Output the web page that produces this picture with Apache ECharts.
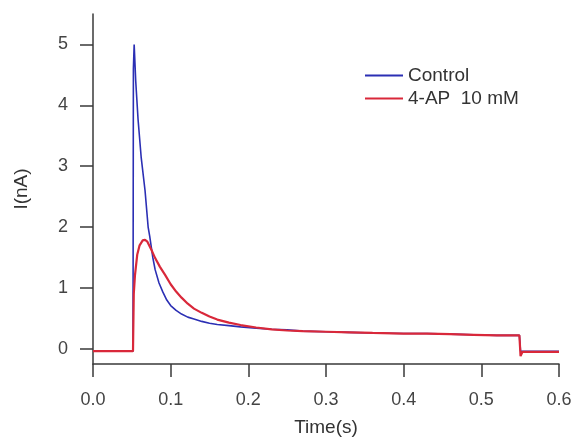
<!DOCTYPE html>
<html>
<head>
<meta charset="utf-8">
<script src="https://cdn.jsdelivr.net/npm/echarts@6/dist/echarts.min.js"></script>
<style>
html,body{margin:0;padding:0;background:#fff;}
#chart{width:577px;height:437px;}
</style>
</head>
<body>
<div id="chart"></div>
<script>
// Control trace: time (s)
var controlTime = [0, 0.0515, 0.0520, 0.0530, 0.0550, 0.0580, 0.0620, 0.0670, 0.0710, 0.0730, 0.0770, 0.0800, 0.0850, 0.0900, 0.0950, 0.1000, 0.1070, 0.1140, 0.1220, 0.1300, 0.1400, 0.1500, 0.1600, 0.1750, 0.1900, 0.2100, 0.2300, 0.2500, 0.2700, 0.3000, 0.3300, 0.3600, 0.4000, 0.4300, 0.4600, 0.4900, 0.5200, 0.5490, 0.5505, 0.6000];
// Control trace: current (nA)
var controlCurrent = [-0.04, -0.04, 4.6, 5.0, 4.4, 3.77, 3.15, 2.6, 2.0, 1.85, 1.5, 1.3, 1.08, 0.93, 0.8, 0.71, 0.63, 0.57, 0.52, 0.49, 0.45, 0.42, 0.4, 0.38, 0.36, 0.34, 0.32, 0.31, 0.29, 0.28, 0.27, 0.26, 0.25, 0.25, 0.24, 0.23, 0.22, 0.22, -0.04, -0.04];
// 4-AP trace: time (s)
var apTime = [0, 0.0515, 0.0525, 0.0540, 0.0570, 0.0600, 0.0640, 0.0670, 0.0700, 0.0750, 0.0800, 0.0860, 0.0930, 0.1000, 0.1070, 0.1140, 0.1220, 0.1300, 0.1400, 0.1500, 0.1600, 0.1750, 0.1900, 0.2100, 0.2300, 0.2500, 0.2700, 0.3000, 0.3300, 0.3600, 0.4000, 0.4300, 0.4600, 0.4900, 0.5200, 0.5490, 0.5505, 0.5530, 0.6000];
// 4-AP trace: current (nA)
var apCurrent = [-0.04, -0.04, 0.9, 1.2, 1.55, 1.7, 1.78, 1.79, 1.76, 1.63, 1.49, 1.35, 1.21, 1.06, 0.94, 0.84, 0.74, 0.66, 0.59, 0.53, 0.48, 0.43, 0.39, 0.35, 0.32, 0.3, 0.29, 0.28, 0.27, 0.26, 0.25, 0.25, 0.24, 0.23, 0.22, 0.22, -0.12, -0.05, -0.05];

var xTicks = [0, 0.1, 0.2, 0.3, 0.4, 0.5, 0.6];
var yTicks = [0, 1, 2, 3, 4, 5];
var seriesNames = ['Control', '4-AP  10 mM'];

function pairs(t, v) { return t.map(function (x, i) { return [x, v[i]]; }); }

var font = 'Liberation Sans, Arial, sans-serif';
var axisColor = '#3a3a3a';
var chart = echarts.init(document.getElementById('chart'), null, {renderer: 'canvas'});
chart.setOption({
  animation: false,
  backgroundColor: '#ffffff',
  grid: {left: 93, right: 18, top: 14, bottom: 73, containLabel: false, outerBoundsMode: 'none'},
  legend: {
    orient: 'vertical', left: 360, top: 61, icon: 'rect', itemWidth: 38, itemHeight: 2,
    itemGap: 4,
    textStyle: {fontFamily: font, fontSize: 19, color: '#333', lineHeight: 19},
    data: seriesNames
  },
  xAxis: {
    type: 'value', min: 0, max: 0.6, interval: 0.1,
    name: 'Time(s)', nameLocation: 'middle', nameGap: 54,
    nameTextStyle: {fontFamily: font, fontSize: 19, color: '#333'},
    axisLine: {show: true, onZero: false, lineStyle: {color: axisColor, width: 1.5}},
    axisTick: {show: true, inside: false, length: 13, lineStyle: {color: axisColor, width: 1.5}, customValues: xTicks},
    axisLabel: {fontFamily: font, fontSize: 18, color: '#444', margin: 27, customValues: xTicks,
      formatter: function (v) { return v.toFixed(1); }},
    splitLine: {show: false}
  },
  yAxis: {
    type: 'value', min: -0.25, max: 5.5,
    name: 'I(nA)', nameLocation: 'middle', nameGap: 62, nameRotate: 90,
    nameTextStyle: {fontFamily: font, fontSize: 19, color: '#333'},
    axisLine: {show: true, onZero: false, lineStyle: {color: axisColor, width: 1.5}},
    axisTick: {show: true, inside: false, length: 13, lineStyle: {color: axisColor, width: 1.5}, customValues: yTicks},
    axisLabel: {fontFamily: font, fontSize: 18, color: '#444', margin: 25, customValues: yTicks,
      formatter: function (v) { return String(Math.round(v)); }},
    splitLine: {show: false}
  },
  series: [
    {name: seriesNames[0], type: 'line', data: pairs(controlTime, controlCurrent), symbol: 'none', smooth: false,
      lineStyle: {color: '#2b2fb4', width: 1.6}, itemStyle: {color: '#2b2fb4'}, z: 2},
    {name: seriesNames[1], type: 'line', data: pairs(apTime, apCurrent), symbol: 'none', smooth: false,
      lineStyle: {color: '#d9283a', width: 2.2}, itemStyle: {color: '#d9283a'}, z: 3}
  ]
});
</script>
</body>
</html>
